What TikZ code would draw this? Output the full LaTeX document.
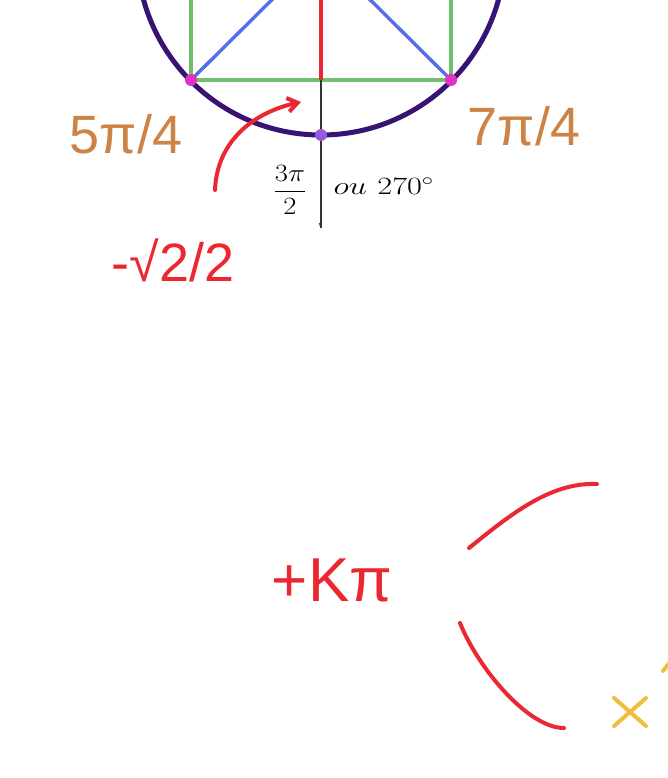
\documentclass[tikz,border=0pt]{standalone}
\usepackage{fontspec}
\newfontfamily\hand{Liberation Sans}
\usetikzlibrary{arrows.meta,calc}
\definecolor{circ}{RGB}{55,20,115}
\definecolor{grn}{RGB}{110,190,110}
\definecolor{blu}{RGB}{85,110,230}
\definecolor{rd}{RGB}{235,40,50}
\definecolor{org}{RGB}{205,130,70}
\definecolor{mag}{RGB}{225,50,200}
\definecolor{pur}{RGB}{150,90,220}
\definecolor{yel}{RGB}{240,190,60}
\tikzset{
  handlbl/.style={font=\hand\fontsize{54}{54}\selectfont, inner sep=0pt},
  dotmark/.style={circle, fill=#1, inner sep=0pt, minimum size=12pt},
  redstroke/.style={rd, line width=4pt, line cap=round},
}
\begin{document}
\begin{tikzpicture}[x=1pt,y=-1pt]
\useasboundingbox (0,0) rectangle (668,778);
\begin{scope}
\clip (0,0) rectangle (668,778);
\coordinate (O) at (321,-49);
\coordinate (p5) at (191,80);
\coordinate (p7) at (451,80);
\coordinate (bot) at (321,135);
\coordinate (axend) at (321,228);
\coordinate (tl) at (191,-20);
\coordinate (tr) at (451,-20);
% green lines
\draw[grn, line width=3.2pt] (tl) -- (p5) -- (p7) -- (tr);
% blue lines
\draw[blu, line width=3.4pt] (p5) -- (O) -- (p7);
% axis
\draw[black!80, line width=1.5pt] (O) -- (axend);
\draw[rd, line width=3.2pt] (O) -- (321,80);
% circle
\draw[circ, line width=5pt] (O) circle[radius=184];
\end{scope}
\node[dotmark=mag] (d5) at (p5) {};
\node[dotmark=mag] (d7) at (p7) {};
\node[dotmark=pur] (db) at (bot) {};
\draw[black!80, line width=1.2pt] (axend) -- ++(-1.5,-5);
% math labels
\node[font=\fontsize{28}{30}\selectfont, xscale=1.15] (frac) at (290,190) {$\displaystyle\frac{3\pi}{2}$};
\node[font=\fontsize{27}{30}\selectfont, xscale=1.3, anchor=west] (deg) at (329,186) {$ou\ 270^\circ$};
% handwritten labels
\node[handlbl, org] (l5) at (126,134) {5π/4};
\node[handlbl, org] (l7) at (524,126) {7π/4};
\node[font=\hand\fontsize{54}{54}\selectfont, rd] (ls) at (173,260) {-√2/2};
\node[font=\hand\fontsize{62}{62}\selectfont, rd] (kp) at (332,580) {+Kπ};
% curved arrow
\coordinate (a0) at (215,190);
\coordinate (a1) at (301,102);
\draw[redstroke, -{Straight Barb[length=10pt,width=14pt]}] (a0) .. controls (217,140) and (255,112) .. (a1);
% arcs
\coordinate (u0) at (469,548);
\coordinate (u1) at (597,484);
\coordinate (w0) at (460,623);
\coordinate (w1) at (564,728);
\draw[redstroke] (u0) .. controls (510,515) and (550,482) .. (u1);
\draw[redstroke] (w0) .. controls (478,668) and (528,728) .. (w1);
% yellow marks
\coordinate (x0) at (630,712);
\draw[yel, line width=4pt, line cap=round] ($(x0)+(-16,-14)$) -- ($(x0)+(16,14)$);
\draw[yel, line width=4pt, line cap=round] ($(x0)+(-16,14)$) -- ($(x0)+(16,-14)$);
\coordinate (y0) at (670,662);
\draw[yel, line width=4pt, line cap=round] (y0) -- ++(-7,9);
\end{tikzpicture}
\end{document}
